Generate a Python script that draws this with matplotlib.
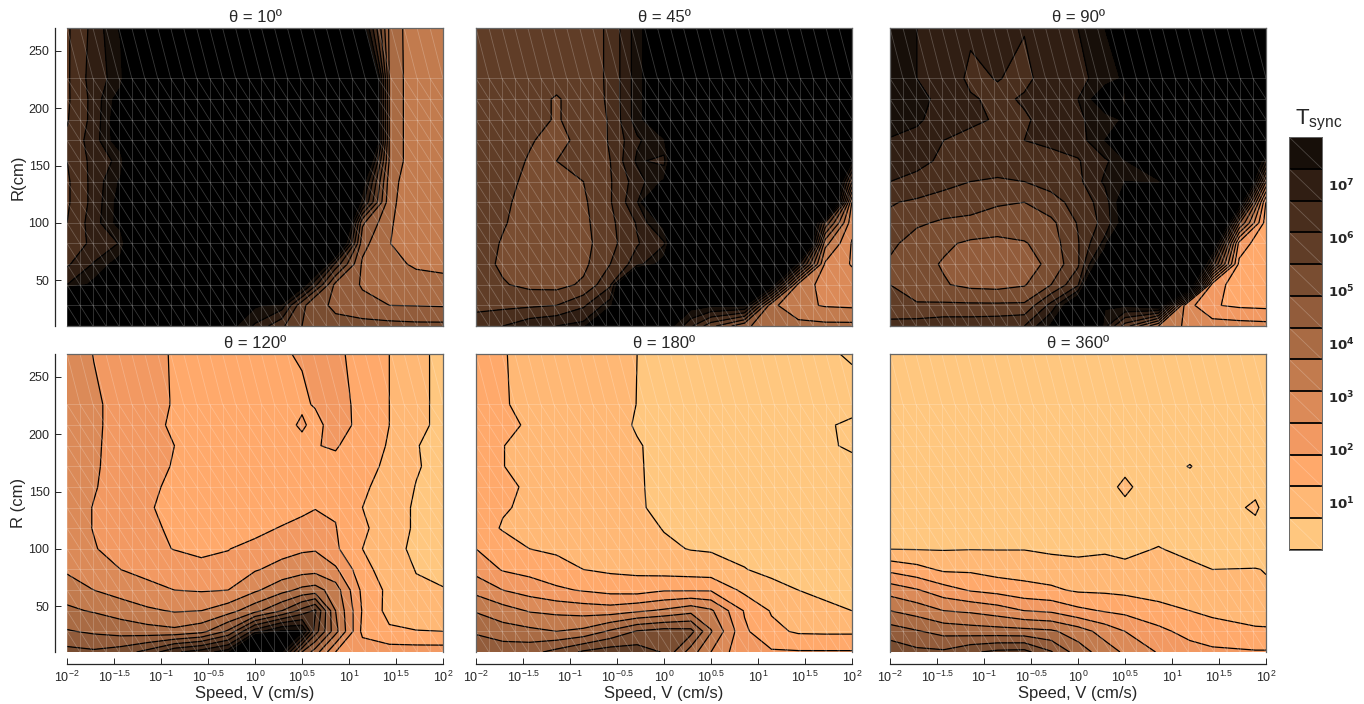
import numpy as np
import matplotlib
matplotlib.use('Agg')
import matplotlib.pyplot as plt
from matplotlib.collections import LineCollection
from matplotlib.colors import ListedColormap, BoundaryNorm

plt.rcParams['font.family'] = ['Liberation Sans', 'DejaVu Sans']
plt.rcParams['mathtext.default'] = 'regular'

# log10 of the speed at the columns
logv = [-2, -1.714, -1.429, -1.143, -0.857, -0.571, -0.286, 0, 0.286, 0.5, 0.857, 1.143, 1.429, 1.714, 2]
logv_120 = [-2, -1.714, -1.429, -1.143, -0.857, -0.571, -0.286, 0, 0.286, 0.5, 0.64, 0.857, 1.143, 1.429, 1.714, 2]
logv_360 = [-2, -1.714, -1.429, -1.143, -0.857, -0.571, -0.286, 0, 0.286, 0.5, 0.857, 1.19, 1.429, 1.887, 2]
radius = [270, 226, 208, 190, 172, 154, 136, 118, 100, 82, 64, 46, 28, 10]

# log10(Tsync), rows go from R=270 down to R=10; 12 or more is off the top of the scale (black)
t10 = [
    [6.0, 6.9, 8.0, 12, 12, 12, 12, 12, 12, 12, 12, 8.3, 4.2, 3.2, 3.3],
    [6.0, 7.0, 7.6, 12, 12, 12, 12, 12, 12, 12, 12, 13, 4.25, 3.2, 3.3],
    [6.0, 6.9, 8.3, 12, 12, 12, 12, 12, 12, 12, 12, 13, 4.25, 3.2, 3.3],
    [6.05, 6.9, 8.5, 12, 12, 12, 12, 12, 12, 12, 12, 13, 4.25, 3.2, 3.3],
    [6.2, 7.0, 8.4, 12, 12, 12, 12, 12, 12, 12, 12, 13, 4.25, 3.2, 3.3],
    [6.1, 6.9, 7.5, 12, 12, 12, 12, 12, 12, 12, 12, 10, 4.25, 3.2, 3.3],
    [6.0, 6.9, 8.0, 12, 12, 12, 12, 12, 12, 12, 12, 8.3, 4.0, 3.15, 3.2],
    [6.0, 6.9, 8.2, 12, 12, 12, 12, 12, 12, 12, 12, 7.5, 3.9, 3.15, 3.2],
    [6.1, 7.0, 8.2, 12, 12, 12, 12, 12, 12, 12, 12, 5.0, 3.8, 3.15, 3.2],
    [6.3, 6.85, 7.35, 12, 12, 12, 12, 12, 12, 12, 10, 4.5, 3.72, 3.3, 3.3],
    [6.6, 7.35, 8.3, 12, 12, 12, 12, 12, 12, 12, 6.5, 4.2, 3.9, 3.6, 3.5],
    [7.3, 8.1, 12, 12, 12, 12, 12, 12, 12, 8.3, 4.7, 4.25, 4.05, 4.0, 3.95],
    [12, 12, 12, 12, 12, 12, 8.0, 8.0, 7.6, 5.6, 4.7, 4.45, 4.3, 4.28, 4.25],
    [12, 12, 12, 12, 12, 12, 8.2, 7.2, 6.2, 5.5, 5.2, 5.15, 5.1, 5.05, 5.05],
]
t45 = [
    [5.8, 5.75, 5.7, 5.7, 5.8, 6.2, 7.6, 9.0, 12, 12, 12, 12, 12, 12, 12],
    [5.8, 5.75, 5.7, 5.7, 5.8, 6.2, 7.6, 9.0, 12, 12, 12, 12, 12, 12, 12],
    [5.8, 5.75, 5.7, 5.45, 5.75, 6.2, 7.6, 9.0, 12, 12, 12, 12, 12, 12, 12],
    [5.8, 5.75, 5.7, 5.45, 5.75, 6.15, 7.6, 9.0, 12, 12, 12, 12, 12, 12, 12],
    [5.8, 5.75, 5.55, 5.3, 5.7, 6.15, 7.2, 7.8, 12, 12, 12, 12, 12, 12, 12],
    [5.8, 5.75, 5.45, 5.5, 5.75, 6.1, 7.4, 7.1, 12, 12, 12, 12, 12, 12, 8.0],
    [5.8, 5.7, 5.35, 5.3, 5.5, 6.05, 7.0, 8.0, 7.8, 12, 12, 12, 12, 12, 5.5],
    [5.8, 5.6, 5.3, 5.25, 5.4, 6.05, 7.2, 12, 12, 12, 12, 12, 12, 12, 3.05],
    [5.8, 5.55, 5.25, 5.2, 5.35, 5.95, 6.75, 8.2, 12, 12, 12, 12, 12, 6.0, 2.7],
    [5.8, 5.45, 5.25, 5.2, 5.3, 5.9, 6.65, 7.2, 12, 12, 12, 12, 12, 3.9, 2.45],
    [5.75, 5.4, 5.2, 5.2, 5.35, 6.1, 7.0, 8.3, 12, 12, 12, 12, 7.5, 3.0, 2.45],
    [5.9, 5.55, 5.35, 5.3, 5.6, 6.6, 12, 12, 12, 12, 12, 8.3, 3.5, 2.85, 2.8],
    [5.95, 5.95, 6.0, 6.1, 6.6, 7.6, 12, 12, 8.2, 8.0, 8.0, 3.85, 3.25, 3.05, 3.0],
    [6.4, 6.7, 7.1, 7.3, 7.5, 12, 12, 8.5, 6.8, 5.7, 4.4, 4.0, 3.9, 3.85, 3.85],
]
t90 = [
    [7.5, 7.3, 7.0, 6.78, 6.9, 6.72, 6.9, 7.3, 7.9, 12, 12, 12, 12, 12, 12],
    [7.5, 7.3, 7.0, 6.6, 6.72, 6.6, 6.9, 7.1, 7.6, 8.0, 12, 12, 12, 12, 12],
    [7.7, 7.55, 7.05, 6.75, 6.6, 6.75, 6.85, 7.3, 8.5, 7.8, 12, 12, 12, 12, 12],
    [7.6, 7.4, 7.0, 6.8, 6.65, 6.65, 6.85, 7.2, 7.6, 8.0, 12, 12, 12, 12, 12],
    [7.25, 7.1, 6.7, 6.55, 6.6, 6.7, 6.8, 7.0, 7.9, 12, 12, 12, 12, 12, 12],
    [6.85, 6.85, 6.6, 6.4, 6.3, 6.4, 6.55, 6.65, 7.2, 7.7, 12, 12, 12, 12, 7.0],
    [6.7, 6.55, 6.25, 6.1, 6.05, 6.1, 6.3, 6.55, 7.4, 7.9, 7.5, 12, 12, 12, 4.3],
    [6.15, 6.0, 5.9, 5.75, 5.55, 5.5, 5.9, 6.3, 7.0, 8.5, 12, 12, 12, 8.5, 1.85],
    [5.95, 5.6, 5.4, 5.35, 5.3, 5.25, 5.35, 6.15, 6.9, 8.3, 12, 12, 12, 5.0, 1.6],
    [5.65, 5.2, 5.0, 4.8, 4.7, 4.85, 5.2, 6.05, 7.5, 12, 12, 12, 9.0, 2.3, 1.35],
    [5.4, 5.1, 4.85, 4.6, 4.5, 4.65, 5.05, 6.0, 9.0, 12, 12, 12, 6.5, 1.75, 1.35],
    [5.5, 5.25, 4.95, 4.75, 4.7, 4.85, 5.5, 6.6, 12, 12, 12, 10, 2.2, 1.6, 1.6],
    [6.0, 5.55, 5.6, 5.6, 5.6, 5.6, 6.9, 9.0, 8.0, 8.0, 8.5, 2.8, 1.95, 1.8, 1.75],
    [6.15, 6.4, 6.5, 6.5, 6.55, 6.7, 8.0, 12, 7.5, 5.8, 3.7, 3.0, 2.8, 2.75, 2.7],
]
t120 = [
    [2.9, 2.48, 2.3, 2.0, 1.87, 1.7, 1.7, 1.75, 1.85, 1.95, 1.97, 2.0, 1.72, 1.3, 0.85, 0.55],
    [2.9, 2.6, 2.3, 2.0, 1.88, 1.7, 1.65, 1.65, 1.75, 1.8, 1.95, 2.1, 1.75, 1.3, 0.85, 0.55],
    [2.9, 2.6, 2.3, 2.0, 1.85, 1.7, 1.6, 1.6, 1.65, 2.0, 1.7, 2.2, 1.7, 1.3, 0.85, 0.55],
    [2.9, 2.6, 2.25, 2.0, 1.9, 1.7, 1.6, 1.6, 1.65, 1.7, 1.88, 1.95, 1.6, 1.25, 0.72, 0.55],
    [2.9, 2.58, 2.25, 2.0, 1.88, 1.7, 1.6, 1.55, 1.6, 1.65, 1.7, 1.75, 1.55, 1.15, 0.75, 0.5],
    [2.9, 2.55, 2.2, 2.0, 1.8, 1.65, 1.55, 1.55, 1.55, 1.6, 1.6, 1.6, 1.4, 1.05, 0.68, 0.45],
    [2.85, 2.47, 2.15, 1.95, 1.75, 1.65, 1.55, 1.5, 1.55, 1.75, 1.88, 1.85, 1.3, 1.0, 0.62, 0.4],
    [2.85, 2.47, 2.2, 2.0, 1.82, 1.75, 1.65, 1.7, 1.95, 2.1, 2.1, 1.92, 1.4, 1.0, 0.62, 0.4],
    [2.85, 2.55, 2.2, 2.05, 1.88, 1.75, 1.88, 2.1, 2.3, 2.42, 2.45, 2.0, 1.3, 0.95, 0.55, 0.35],
    [3.0, 2.8, 2.5, 2.35, 2.25, 2.1, 2.1, 2.45, 2.7, 2.85, 2.9, 2.6, 1.5, 1.0, 0.68, 0.45],
    [3.45, 3.1, 2.85, 2.65, 2.5, 2.45, 2.5, 3.0, 3.5, 3.85, 3.95, 3.4, 1.75, 1.15, 0.78, 0.75],
    [3.8, 3.65, 3.45, 3.2, 3.05, 3.1, 3.45, 4.1, 4.9, 5.7, 6.2, 3.7, 1.85, 1.1, 1.0, 0.95],
    [4.35, 4.2, 4.05, 3.95, 3.85, 4.1, 5.0, 7.0, 8.0, 8.0, 5.8, 3.9, 1.75, 1.4, 1.32, 1.3],
    [5.1, 5.0, 5.2, 5.7, 6.6, 7.0, 7.6, 12, 7.9, 4.9, 4.0, 2.5, 2.25, 2.2, 2.2, 2.2],
]
t180 = [
    [1.5, 1.33, 1.15, 1.1, 1.05, 0.95, 0.7, 0.55, 0.5, 0.45, 0.4, 0.35, 0.3, 0.15, 0.06],
    [1.55, 1.35, 1.15, 1.05, 1.0, 0.95, 0.69, 0.55, 0.5, 0.45, 0.4, 0.35, 0.3, 0.15, 0.25],
    [1.6, 1.4, 1.25, 1.05, 1.0, 0.9, 0.65, 0.55, 0.5, 0.45, 0.4, 0.35, 0.3, 0.15, 0.02],
    [1.55, 1.31, 1.15, 1.05, 1.0, 0.9, 0.74, 0.55, 0.5, 0.45, 0.4, 0.35, 0.3, 0.15, 0.05],
    [1.55, 1.31, 1.15, 1.05, 1.0, 0.9, 0.75, 0.55, 0.5, 0.45, 0.4, 0.35, 0.3, 0.2, 0.2],
    [1.7, 1.45, 1.2, 1.05, 1.0, 0.95, 0.76, 0.55, 0.5, 0.45, 0.4, 0.35, 0.3, 0.25, 0.25],
    [1.7, 1.35, 1.2, 1.1, 1.05, 1.0, 0.75, 0.6, 0.5, 0.45, 0.4, 0.35, 0.3, 0.25, 0.25],
    [1.6, 1.25, 1.2, 1.1, 1.05, 1.0, 0.85, 0.68, 0.6, 0.55, 0.45, 0.4, 0.35, 0.3, 0.25],
    [1.9, 1.6, 1.3, 1.2, 1.1, 1.05, 0.95, 0.78, 0.68, 0.65, 0.55, 0.5, 0.45, 0.3, 0.2],
    [2.3, 1.85, 1.7, 1.53, 1.3, 1.2, 1.15, 1.05, 1.0, 0.95, 0.72, 0.55, 0.5, 0.4, 0.3],
    [2.92, 2.5, 2.25, 2.0, 1.85, 1.7, 1.65, 1.85, 1.85, 1.85, 1.15, 0.9, 0.7, 0.6, 0.5],
    [3.65, 3.35, 3.05, 2.95, 2.85, 2.8, 3.0, 3.2, 3.5, 3.2, 1.85, 1.25, 0.9, 0.8, 0.7],
    [4.2, 3.97, 3.85, 3.7, 3.85, 4.4, 4.95, 5.15, 5.1, 3.75, 2.0, 1.45, 1.22, 1.2, 1.2],
    [4.85, 4.65, 4.7, 5.1, 5.6, 5.85, 5.8, 5.45, 4.0, 3.1, 2.0, 1.97, 1.95, 1.95, 1.95],
]
t360 = [
    [0.5, 0.5, 0.5, 0.5, 0.48, 0.48, 0.48, 0.48, 0.48, 0.48, 0.48, 0.48, 0.48, 0.48, 0.48],
    [0.5, 0.5, 0.5, 0.5, 0.48, 0.48, 0.48, 0.48, 0.48, 0.48, 0.48, 0.48, 0.48, 0.48, 0.48],
    [0.5, 0.5, 0.5, 0.5, 0.5, 0.48, 0.48, 0.48, 0.48, 0.48, 0.48, 0.48, 0.48, 0.48, 0.48],
    [0.5, 0.5, 0.5, 0.5, 0.5, 0.5, 0.5, 0.5, 0.5, 0.5, 0.5, 0.5, 0.5, 0.48, 0.48],
    [0.5, 0.5, 0.5, 0.5, 0.5, 0.5, 0.5, 0.5, 0.5, 0.53, 0.5, 0.72, 0.5, 0.48, 0.48],
    [0.5, 0.5, 0.5, 0.5, 0.5, 0.5, 0.5, 0.5, 0.45, 0.85, 0.2, 0.5, 0.5, 0.45, 0.45],
    [0.5, 0.5, 0.5, 0.5, 0.5, 0.5, 0.5, 0.5, 0.5, 0.53, 0.5, 0.5, 0.2, 0.85, 0.4],
    [0.52, 0.52, 0.52, 0.52, 0.52, 0.52, 0.52, 0.52, 0.52, 0.52, 0.55, 0.5, 0.5, 0.45, 0.45],
    [0.68, 0.67, 0.66, 0.68, 0.68, 0.68, 0.6, 0.58, 0.63, 0.6, 0.72, 0.58, 0.55, 0.55, 0.55],
    [1.74, 1.5, 1.2, 1.2, 1.05, 1.05, 0.98, 0.88, 0.9, 0.8, 0.75, 0.8, 0.7, 0.71, 0.69],
    [2.85, 2.55, 2.15, 1.85, 1.7, 1.5, 1.4, 1.22, 1.2, 1.15, 1.05, 0.95, 0.85, 0.75, 0.73],
    [3.7, 3.45, 3.1, 3.0, 2.8, 2.5, 2.4, 2.05, 1.85, 1.75, 1.5, 1.3, 1.15, 1.0, 0.95],
    [4.6, 4.35, 4.1, 4.0, 3.95, 3.9, 3.8, 3.4, 2.85, 2.5, 2.05, 1.7, 1.6, 1.4, 1.4],
    [5.3, 5.05, 5.0, 5.4, 5.65, 5.7, 4.95, 4.0, 3.4, 3.0, 2.45, 2.15, 2.0, 1.95, 1.95],
]

titles = ['θ = 10º', 'θ = 45º', 'θ = 90º', 'θ = 120º', 'θ = 180º', 'θ = 360º']
panels = [t10, t45, t90, t120, t180, t360]
panel_v = [logv, logv, logv, logv_120, logv, logv_360]

levels = [0.1, 0.7, 1.3, 1.9, 2.5, 3.1, 3.7, 4.3, 4.9, 5.5, 6.1, 6.7, 7.3, 7.9]
cbar_ticks = [1, 2, 3, 4, 5, 6, 7]
x_ticks = [-2, -1.5, -1, -0.5, 0, 0.5, 1, 1.5, 2]
x_labels = ['$10^{-2}$', '$10^{-1.5}$', '$10^{-1}$', '$10^{-0.5}$', '$10^{0}$', '$10^{0.5}$', '$10^{1}$', '$10^{1.5}$', '$10^{2}$']
y_ticks = [50, 100, 150, 200, 250]
y_ticks_right = [46, 91, 136, 181, 226]

# the sampling mesh shows through as faint light lines
mesh_v = np.linspace(-2, 2, 30)
mesh_r = [10, 28, 46, 64, 82, 100, 118, 136, 154, 172, 190, 208, 226, 270]

W, H = 1364.0, 704.0
lefts = [67, 476, 890]
tops = [28, 354]
pw, ph = 376, 298

colors = plt.get_cmap('copper')(np.linspace(1, 0, 14))
cmap = ListedColormap(colors[:13])
cmap.set_under(colors[0])
cmap.set_over(colors[13])
norm = BoundaryNorm(levels, 13)
text_col = '#262626'
frame_col = '#666666'


def mesh_segments():
    segs = []
    for j in range(len(mesh_r)):
        segs.append([(-2, mesh_r[j]), (2, mesh_r[j])])
    for i in range(len(mesh_v)):
        segs.append([(mesh_v[i], 10), (mesh_v[i], 226)])
    for j in range(len(mesh_r) - 1):
        for i in range(len(mesh_v) - 1):
            segs.append([(mesh_v[i], mesh_r[j + 1]), (mesh_v[i + 1], mesh_r[j])])
    return segs


fig = plt.figure(figsize=(W / 100, H / 100), dpi=100)

for n in range(6):
    row, col = n // 3, n % 3
    ax = fig.add_axes([lefts[col] / W, 1 - (tops[row] + ph) / H, pw / W, ph / H])
    z = np.array(panels[n], dtype=float)
    ax.contourf(panel_v[n], radius, z, levels=levels, cmap=cmap, norm=norm, extend='both')
    ax.contour(panel_v[n], radius, z, levels=levels, colors='k', linewidths=0.9)
    ax.add_collection(LineCollection(mesh_segments(), colors='white', alpha=0.22, linewidths=0.6))
    ax.set_xlim(-2, 2)
    ax.set_ylim(10, 270)
    ax.set_title(titles[n], fontsize=12, color=text_col, pad=4)

    for s in ['top', 'right', 'left', 'bottom']:
        ax.spines[s].set_color(frame_col)
        ax.spines[s].set_linewidth(0.9)

    if col == 0:
        ax.spines['left'].set_position(('outward', 8.6))
        ax.spines['left'].set_color(text_col)
        ax.set_yticks(y_ticks)
        ax.tick_params(axis='y', direction='in', length=4, width=0.7, labelsize=9, colors=text_col, pad=4)
        ax.set_ylabel('R(cm)' if row == 0 else 'R (cm)', fontsize=12, color=text_col, labelpad=2)
    else:
        ax.set_yticks([])

    if row == 1:
        ax.spines['bottom'].set_position(('outward', 8.6))
        ax.spines['bottom'].set_color(text_col)
        ax.set_xticks(x_ticks)
        ax.set_xticklabels(x_labels)
        ax.tick_params(axis='x', direction='in', length=4, width=0.7, labelsize=9, colors=text_col, pad=4)
        ax.set_xlabel('Speed, V (cm/s)', fontsize=12, color=text_col, labelpad=1)
    else:
        ax.set_xticks([])

    top = ax.secondary_xaxis('top')
    top.set_xticks(x_ticks)
    top.tick_params(direction='in', length=3, width=0.7, labeltop=False, color='#222222')
    top.spines['top'].set_visible(False)
    right = ax.secondary_yaxis('right')
    right.set_yticks(y_ticks_right)
    right.tick_params(direction='in', length=3, width=0.7, labelright=False, color='#222222')
    right.spines['right'].set_visible(False)

# colour bar
cax = fig.add_axes([1289 / W, 1 - 550 / H, 33 / W, 413 / H])
cax.pcolormesh([0, 1], levels, np.arange(13).reshape(-1, 1), cmap=ListedColormap(colors[:13]), vmin=0, vmax=12)
cax.hlines(levels, 0, 1, colors='k', linewidths=1.3)
diag = [[(0, levels[i + 1]), (1, levels[i])] for i in range(13)]
cax.add_collection(LineCollection(diag, colors='white', alpha=0.22, linewidths=0.6))
cax.set_xlim(0, 1)
cax.set_ylim(levels[0], levels[-1])
cax.set_xticks([])
cax.yaxis.tick_right()
cax.set_yticks(cbar_ticks)
cax.set_yticklabels(['$\\mathbf{10^{%d}}$' % t for t in cbar_ticks])
cax.tick_params(axis='y', length=0, labelsize=9.5, colors=text_col, pad=4)
for s in cax.spines.values():
    s.set_color(frame_col)
    s.set_linewidth(0.7)
fig.text(1319 / W, 1 - 120 / H, 'T$_{sync}$', fontsize=16, color=text_col, ha='center', va='center')

fig.savefig('out.png', dpi=100)
